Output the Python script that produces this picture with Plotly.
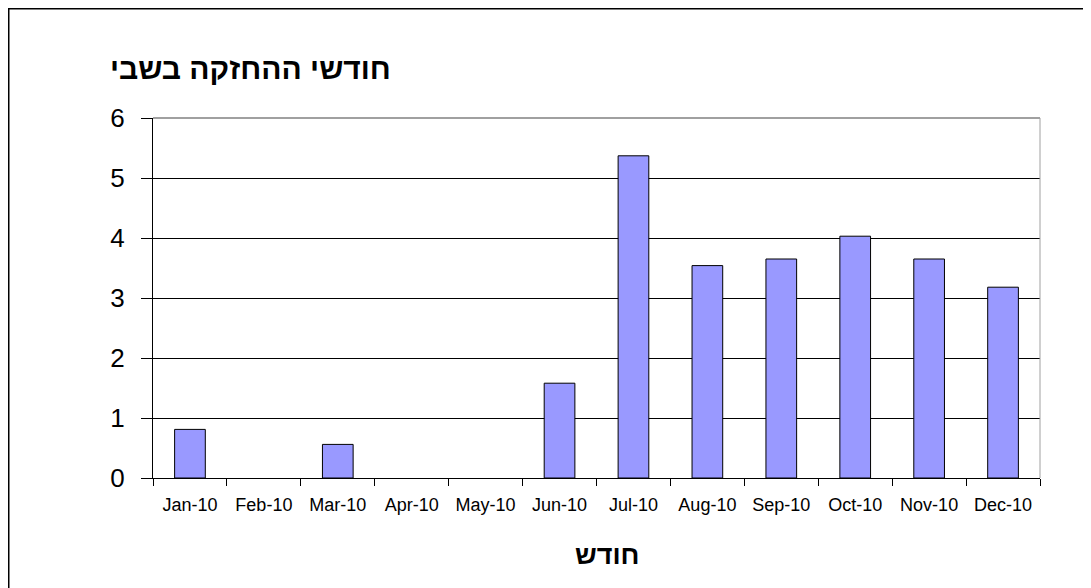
import plotly.graph_objects as go

months = ["Jan-10", "Feb-10", "Mar-10", "Apr-10", "May-10", "Jun-10",
          "Jul-10", "Aug-10", "Sep-10", "Oct-10", "Nov-10", "Dec-10"]
values = [0.81, 0, 0.56, 0, 0, 1.58, 5.37, 3.54, 3.65, 4.03, 3.65, 3.18]
y_ticks = [0, 1, 2, 3, 4, 5, 6]

chart_title = "חודשי ההחזקה בשבי"
x_title = "חודש"

# the page body adds an 8px margin, so the figure is laid out 8px in
OFF = 8
W, H = 1091 - OFF, 588 - OFF
ML, MR, MT, MB = 153 - OFF, 51, 118 - OFF, 110
FONT = "Arial, 'Liberation Sans', 'DejaVu Sans', sans-serif"

pw = W - ML - MR
ph = H - MT - MB

def px_to_paper_x(px):
    return (px - OFF - ML) / pw

def px_to_paper_y(py):
    return (H - MB - (py - OFF)) / ph

fig = go.Figure()
fig.add_trace(go.Bar(
    x=months, y=values,
    marker=dict(color="#9999FF",
                line=dict(color="#000000",
                          width=[1 if v > 0 else 0 for v in values])),
))

fig.update_layout(
    width=W, height=H,
    margin=dict(l=ML, r=MR, t=MT, b=MB, pad=0),
    paper_bgcolor="white", plot_bgcolor="white",
    bargap=0.585,
    showlegend=False,
    font=dict(family=FONT, color="black"),
    title=dict(
        text="<b>" + chart_title + "</b>",
        font=dict(size=30, family=FONT, color="black"),
        x=(110 - OFF) / W, xref="container", xanchor="left",
        y=1 - (68 - OFF) / H, yref="container", yanchor="middle",
    ),
    xaxis=dict(
        type="category",
        showline=True, linecolor="black", linewidth=1,
        ticks="outside", ticklen=7, tickcolor="black", tickwidth=1,
        tickson="boundaries",
        ticklabelstandoff=10,
        tickfont=dict(size=18, family=FONT, color="black"),
        showgrid=False,
        fixedrange=True,
    ),
    yaxis=dict(
        range=[0, 6],
        tickvals=y_ticks,
        showline=True, linecolor="black", linewidth=1,
        ticks="outside", ticklen=11, tickcolor="black", tickwidth=1,
        ticklabelstandoff=11,
        tickfont=dict(size=26, family=FONT, color="black"),
        showgrid=True, gridcolor="black", gridwidth=1,
        zeroline=False,
        fixedrange=True,
    ),
    annotations=[dict(
        text="<b>" + x_title + "</b>",
        xref="paper", yref="paper",
        x=px_to_paper_x(607), y=px_to_paper_y(555),
        xanchor="center", yanchor="middle",
        showarrow=False,
        font=dict(size=27, family=FONT, color="black"),
    )],
    shapes=[
        # plot area top & right edges (gray)
        dict(type="line", xref="paper", yref="paper", x0=0, x1=1, y0=1, y1=1,
             line=dict(color="#808080", width=1.5), layer="above"),
        dict(type="line", xref="paper", yref="paper", x0=1, x1=1, y0=0, y1=1,
             line=dict(color="#A0A0A0", width=1), layer="above"),
        # outer chart border (left & top)
        dict(type="line", xref="paper", yref="paper",
             x0=px_to_paper_x(8.75), x1=px_to_paper_x(8.75),
             y0=px_to_paper_y(7.75), y1=px_to_paper_y(600),
             line=dict(color="black", width=1.5), layer="above"),
        dict(type="line", xref="paper", yref="paper",
             x0=px_to_paper_x(8.75), x1=px_to_paper_x(1100),
             y0=px_to_paper_y(8.75), y1=px_to_paper_y(8.75),
             line=dict(color="black", width=1.5), layer="above"),
    ],
)

fig.write_html("out.html")
